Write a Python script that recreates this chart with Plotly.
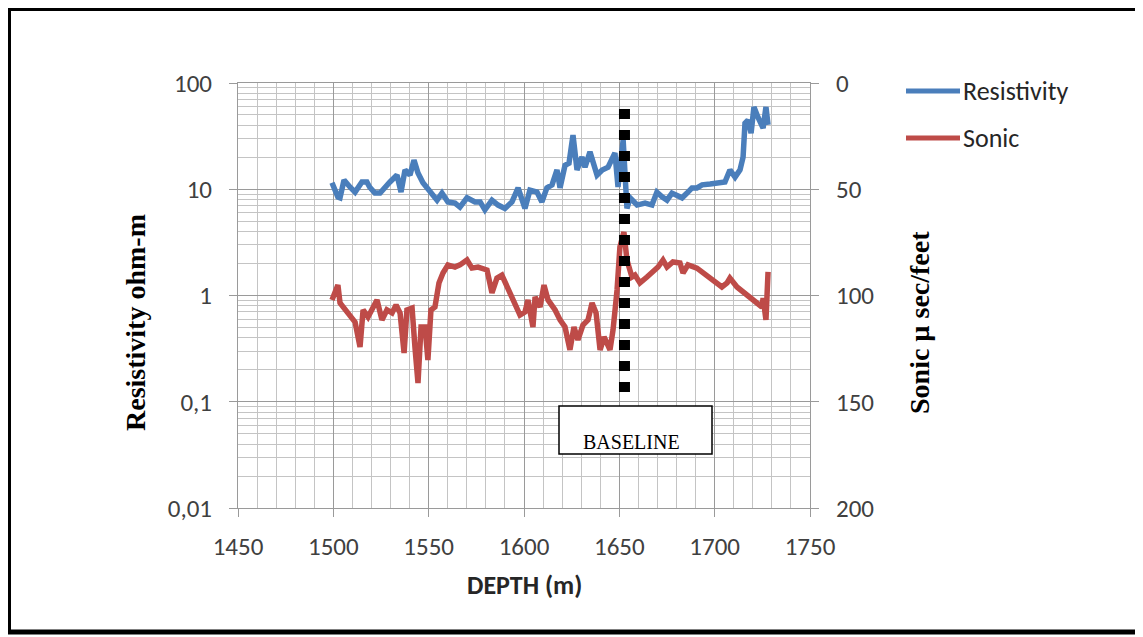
import plotly.graph_objects as go

# ---------------- data ----------------
depth_res = [1499.3, 1502.4, 1503.5, 1505.6, 1508.7, 1511.4, 1515.0, 1517.6, 1519.0, 1521.8,
             1524.5, 1527.0, 1529.7, 1533.4, 1535.5, 1537.6, 1540.2, 1542.3, 1544.4, 1547.0,
             1551.7, 1554.4, 1557.0, 1560.1, 1563.8, 1566.4, 1570.1, 1574.3, 1577.0, 1579.5,
             1583.2, 1586.4, 1590.0, 1593.7, 1596.9, 1600.5, 1603.1, 1606.8, 1609.4, 1612.0,
             1614.7, 1617.3, 1618.9, 1621.5, 1623.6, 1625.7, 1627.8, 1630.4, 1632.0, 1634.6,
             1638.3, 1641.0, 1644.1, 1647.7, 1649.3, 1652.0, 1654.0, 1655.6, 1659.3, 1663.5,
             1667.1, 1669.7, 1672.4, 1675.0, 1677.6, 1680.2, 1682.9, 1685.5, 1688.1, 1690.7,
             1693.4, 1697.6, 1701.2, 1705.4, 1708.0, 1710.7, 1713.3, 1714.9, 1715.9, 1717.5,
             1719.1, 1720.6, 1722.7, 1725.4, 1726.9, 1728.0]
resistivity = [11.5, 8.45, 8.3, 12.2, 10.5, 9.4, 11.7, 11.7, 10.5, 9.2,
               9.2, 10.5, 11.7, 13.6, 9.4, 15.2, 13.6, 18.8, 14.2, 11.5,
               9.2, 7.9, 9.2, 7.6, 7.4, 6.8, 8.3, 7.6, 7.6, 6.4,
               7.9, 7.1, 6.6, 7.6, 10.3, 6.6, 9.8, 9.4, 7.6, 10.3,
               11.0, 15.2, 10.3, 16.8, 17.6, 32.3, 15.2, 20.1, 16.1, 22.5,
               13.6, 15.2, 16.1, 22.0, 10.5, 29.0, 6.6, 8.3, 7.1, 7.4,
               7.1, 9.4, 8.5, 7.9, 9.2, 8.8, 8.3, 9.2, 10.3, 10.3,
               11.0, 11.2, 11.5, 11.7, 15.2, 13.0, 15.2, 20.1, 41.8, 44.8,
               33.7, 59.5, 47.7, 37.6, 59.5, 40.3]

depth_sonic = [1499.3, 1502.4, 1503.5, 1506.1, 1508.7, 1511.4, 1514.0, 1515.6, 1518.2, 1520.8,
               1522.9, 1525.5, 1528.1, 1530.8, 1532.9, 1535.0, 1537.1, 1538.6, 1541.3, 1542.8,
               1544.4, 1546.0, 1548.1, 1549.6, 1551.2, 1553.3, 1555.4, 1557.5, 1560.1, 1563.8,
               1566.4, 1570.1, 1572.7, 1575.9, 1580.6, 1583.2, 1585.8, 1588.4, 1591.1, 1594.2,
               1597.9, 1600.5, 1602.1, 1604.7, 1605.8, 1608.4, 1610.5, 1612.6, 1616.3, 1618.9,
               1621.5, 1624.1, 1626.2, 1628.3, 1630.9, 1633.6, 1635.7, 1637.8, 1639.9, 1642.0,
               1645.1, 1646.7, 1648.8, 1650.3, 1652.4, 1654.0, 1656.6, 1658.2, 1660.8, 1664.5,
               1667.7, 1670.3, 1672.9, 1675.0, 1678.1, 1681.8, 1683.4, 1686.0, 1690.7, 1693.9,
               1697.6, 1701.2, 1703.8, 1706.5, 1708.0, 1711.7, 1714.9, 1718.5, 1722.2, 1724.8,
               1725.4, 1726.9, 1728.0]
sonic = [102.1, 95.1, 103.5, 106.8, 110.1, 112.5, 124.2, 106.8, 110.1, 105.4,
         102.1, 111.5, 106.8, 108.2, 104.5, 108.2, 127.1, 106.8, 105.9, 124.2,
         141.2, 114.8, 114.8, 130.4, 106.8, 105.4, 94.1, 89.4, 85.6, 86.6,
         85.6, 83.3, 87.1, 86.6, 88.0, 98.8, 91.8, 90.4, 96.0, 102.1,
         109.2, 107.8, 102.1, 114.8, 100.7, 105.4, 95.1, 102.1, 106.8, 111.5,
         114.8, 125.6, 114.8, 120.9, 113.9, 111.5, 103.5, 108.2, 125.6, 119.5,
         125.6, 116.2, 97.4, 77.2, 70.1, 83.3, 91.3, 90.4, 94.1, 91.3,
         88.9, 86.6, 83.3, 86.6, 84.2, 84.7, 89.4, 85.6, 87.1, 89.4,
         91.8, 94.1, 96.0, 94.1, 91.8, 96.0, 98.4, 100.7, 103.5, 105.4,
         101.2, 111.5, 88.9]

res_tickvals = [0.01, 0.1, 1, 10, 100]
res_ticktext = ["0,01", "0,1", "1", "10", "100"]
sonic_tickvals = [0, 50, 100, 150, 200]
depth_tickvals = [1450, 1500, 1550, 1600, 1650, 1700, 1750]

baseline_depth = 1652.7
baseline_sonic_range = [12.2, 148.5]

# ---------------- styling ----------------
BLUE = "#4A7EBB"
RED = "#BE4B48"
MAJ = "#9a9a9a"
MINR = "#c4c4c4"
TICKFONT = dict(family="Carlito, Lato, sans-serif", size=25, color="#404040")
LEGFONT = dict(family="Carlito, Lato, sans-serif", size=26, color="#262626")
SERIF = "Liberation Serif, Times New Roman, serif"

OFF = 8  # page body margin
W, H = 1143 - OFF, 637 - OFF
L, R, T, B = 238 - OFF, 810 - OFF, 83 - OFF, 508 - OFF


def px(x):
    # absolute page pixel -> paper coordinate
    return (x - OFF - L) / (R - L)


def py(y):
    return (B - (y - OFF)) / (B - T)


fig = go.Figure()
fig.add_trace(go.Scatter(x=depth_res, y=resistivity, mode="lines", name="Resistivity",
                         line=dict(color=BLUE, width=5.5), yaxis="y", showlegend=False))
fig.add_trace(go.Scatter(x=depth_sonic, y=sonic, mode="lines", name="Sonic",
                         line=dict(color=RED, width=5.5), yaxis="y2", showlegend=False))

shapes = [
    # outer frame
    dict(type="rect", xref="paper", yref="paper", x0=px(8.5), x1=px(1139), y0=py(632), y1=py(8.5),
         line=dict(color="black", width=5), layer="above"),
    # baseline dotted line
    dict(type="line", xref="x", yref="y2", x0=baseline_depth, x1=baseline_depth,
         y0=baseline_sonic_range[0], y1=baseline_sonic_range[1],
         line=dict(color="black", width=11, dash="10px,11px"), layer="above"),
    # baseline box
    dict(type="rect", xref="paper", yref="paper", x0=px(559), x1=px(712), y0=py(454), y1=py(406),
         line=dict(color="black", width=1.5), fillcolor="white", layer="above"),
    # legend lines
    dict(type="line", xref="paper", yref="paper", x0=px(906), x1=px(960), y0=py(91), y1=py(91),
         line=dict(color=BLUE, width=5)),
    dict(type="line", xref="paper", yref="paper", x0=px(906), x1=px(960), y0=py(138), y1=py(138),
         line=dict(color=RED, width=5)),
]

annotations = [
    dict(text="BASELINE", xref="paper", yref="paper", x=px(631), y=py(442), showarrow=False,
         font=dict(family=SERIF, size=20, color="black"), xanchor="center", yanchor="middle"),
    dict(text="Resistivity", xref="paper", yref="paper", x=px(961), y=py(91), showarrow=False,
         font=LEGFONT, xanchor="left", yanchor="middle"),
    dict(text="Sonic", xref="paper", yref="paper", x=px(961), y=py(138), showarrow=False,
         font=LEGFONT, xanchor="left", yanchor="middle"),
    dict(text="<b>Resistivity ohm-m</b>", xref="paper", yref="paper", x=px(135), y=py(323),
         showarrow=False, textangle=-90, font=dict(family=SERIF, size=28, color="black"),
         xanchor="center", yanchor="middle"),
    dict(text="<b>Sonic µ sec/feet</b>", xref="paper", yref="paper", x=px(919), y=py(323),
         showarrow=False, textangle=-90, font=dict(family=SERIF, size=28, color="black"),
         xanchor="center", yanchor="middle"),
    dict(text="<b>DEPTH (m)</b>", xref="paper", yref="paper", x=px(524), y=py(585),
         showarrow=False, font=dict(family="Carlito, Lato, sans-serif", size=26, color="#262626"),
         xanchor="center", yanchor="middle"),
]

fig.update_layout(
    width=W, height=H,
    margin=dict(l=L, r=W - R, t=T, b=H - B, autoexpand=False),
    paper_bgcolor="white", plot_bgcolor="white",
    shapes=shapes, annotations=annotations,
    xaxis=dict(range=[1450, 1750], tickvals=depth_tickvals, showgrid=True, gridcolor=MAJ,
               gridwidth=1, minor=dict(dtick=10, showgrid=True, gridcolor=MINR, gridwidth=1),
               ticks="outside", ticklen=8, tickcolor=MAJ, showline=True, linecolor=MAJ,
               mirror=True, tickfont=TICKFONT, zeroline=False, ticklabelstandoff=8),
    yaxis=dict(type="log", range=[-2, 2], tickvals=res_tickvals, ticktext=res_ticktext,
               showgrid=True, gridcolor=MAJ, gridwidth=1,
               minor=dict(dtick="D1", showgrid=True, gridcolor=MINR, gridwidth=1),
               ticks="outside", ticklen=8, tickcolor=MAJ, showline=True, linecolor=MAJ,
               mirror=True, tickfont=TICKFONT, zeroline=False, ticklabelstandoff=12),
    yaxis2=dict(range=[200, 0], tickvals=sonic_tickvals, overlaying="y", side="right",
                showgrid=False, ticks="outside", ticklen=8, tickcolor=MAJ, showline=True,
                linecolor=MAJ, tickfont=TICKFONT, zeroline=False, ticklabelstandoff=12),
)

fig.write_html("out.html")
